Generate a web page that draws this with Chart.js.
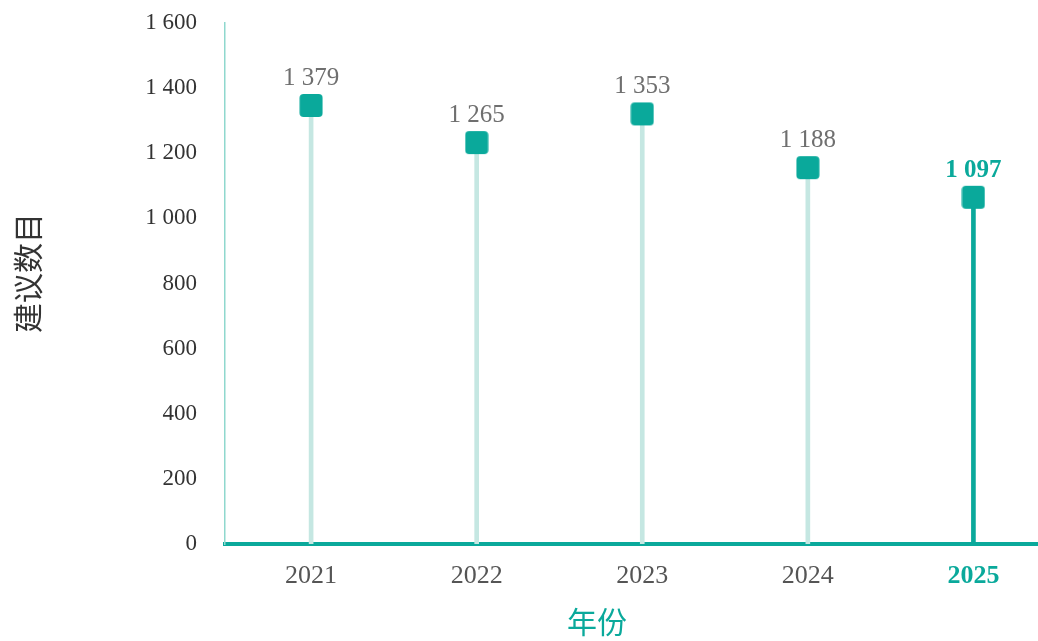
<!DOCTYPE html>
<html>
<head>
<meta charset="utf-8">
<script src="https://cdn.jsdelivr.net/npm/chart.js@4.4.1/dist/chart.umd.min.js"></script>
<style>
  html,body{margin:0;padding:0;background:#fff;}
  #wrap{width:1038px;height:641px;position:relative;}
</style>
</head>
<body>
<div id="wrap"><canvas id="c"></canvas></div>
<script>
// data
const years = [2021, 2022, 2023, 2024, 2025];
const counts = [1379, 1265, 1353, 1188, 1097];
const yTicks = [0, 200, 400, 600, 800, 1000, 1200, 1400, 1600];

const TEAL = '#0aa99b';
const PALE = '#c5e7e2';
const SERIF = '"Liberation Serif", "Times New Roman", serif';
const CJK = '"Noto Sans CJK SC", sans-serif';

const fmt = v => String(v).replace(/\B(?=(\d{3})+(?!\d))/g, ' ');

// rounded square marker that hangs below its value point
function marker(){
  const c = document.createElement('canvas');
  c.width = 24; c.height = 48;
  const g = c.getContext('2d');
  g.fillStyle = TEAL;
  g.beginPath();
  g.roundRect(0.5, 23, 23, 23, 4);
  g.fill();
  return c;
}
const mk = marker();

const points = years.map((y,i)=>({x:y, y:counts[i]}));
const last = years.length-1;

const labelsPlugin = {
  id:'labels',
  afterDatasetsDraw(chart){
    const {ctx, scales:{x, y}} = chart;
    ctx.save();
    ctx.textAlign = 'center';
    ctx.textBaseline = 'alphabetic';
    points.forEach((p,i)=>{
      const hi = i===last;
      ctx.font = (hi?'bold ':'') + '25px ' + SERIF;
      ctx.fillStyle = hi ? TEAL : '#6f6f6f';
      ctx.fillText(fmt(p.y), x.getPixelForValue(p.x), y.getPixelForValue(p.y) - 10);
    });
    // axis titles
    ctx.fillStyle = TEAL;
    ctx.font = '30px ' + CJK;
    ctx.textBaseline = 'middle';
    ctx.fillText('年份', 597, 622);
    ctx.translate(28, 273);
    ctx.rotate(-Math.PI/2);
    ctx.fillStyle = '#333';
    ctx.fillText('建议数目', 0, 0);
    ctx.restore();
  }
};

new Chart(document.getElementById('c'), {
  data:{
    datasets:[
      {type:'bar', data:points, barThickness:4,
       backgroundColor: years.map((_,i)=> i===last ? TEAL : PALE), order:2},
      {type:'scatter', data:points, pointStyle:mk, pointRadius:12, order:1}
    ]
  },
  plugins:[labelsPlugin],
  options:{
    responsive:true, maintainAspectRatio:false, animation:false, events:[],
    layout:{autoPadding:false, padding:{top:23, right:0, left:0, bottom:0}},
    plugins:{legend:{display:false}, tooltip:{enabled:false}},
    scales:{
      x:{
        type:'linear', min:2020.48, max:2025.39, offset:false,
        afterBuildTicks: s => { s.ticks = years.map(v=>({value:v})); },
        afterFit: s => { s.height = 97; },
        grid:{display:false, drawTicks:false},
        border:{display:true, color:TEAL, width:4},
        ticks:{
          padding:17,
          callback: v => String(v),
          color: c => c.index===last ? TEAL : '#555',
          font: c => ({family:SERIF, size:26, weight: c.index===last ? 'bold' : 'normal'})
        }
      },
      y:{
        min:0, max:1600,
        afterBuildTicks: s => { s.ticks = yTicks.map(v=>({value:v})); },
        afterFit: s => { s.width = 225; s.paddingTop = 0; s.paddingBottom = 0; },
        grid:{display:false, drawTicks:false},
        border:{display:true, color:'#8fd8ce', width:1.5},
        ticks:{padding:28, color:'#333', callback: v => fmt(v),
               font:{family:SERIF, size:23}}
      }
    }
  }
});
</script>
</body>
</html>
